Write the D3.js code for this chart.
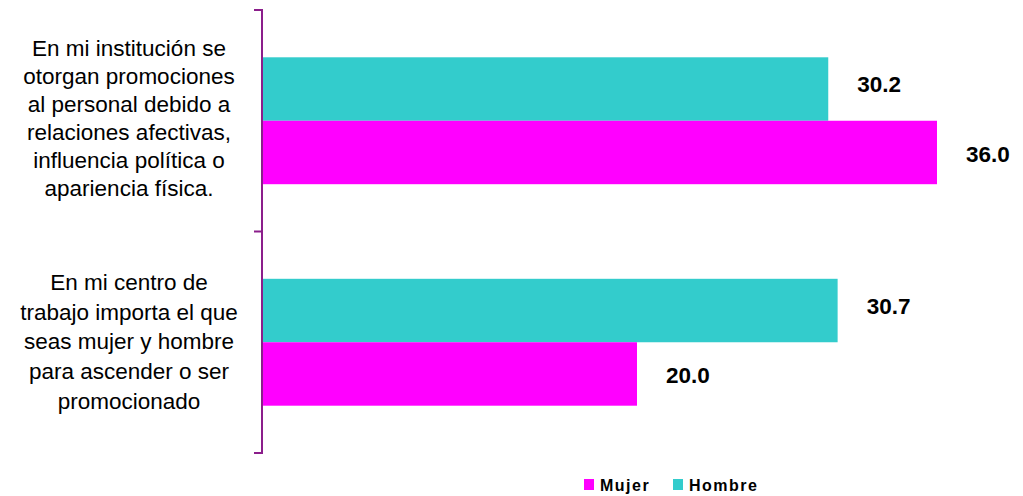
<!DOCTYPE html>
<html>
<head>
<meta charset="utf-8">
<script src="https://cdn.jsdelivr.net/npm/d3@7"></script>
<style>
  html, body { margin: 0; padding: 0; background: #fff; }
  svg { display: block; }
</style>
</head>
<body>
<svg id="chart" width="1023" height="496"></svg>
<script>
// ---- data ----
const categories = ["cat1", "cat2"];
const categoryLabels = [
  ["En mi institución se", "otorgan promociones", "al personal debido a", "relaciones afectivas,", "influencia política o", "apariencia física."],
  ["En mi centro de", "trabajo importa el que", "seas mujer y hombre", "para ascender o ser", "promocionado"]
];
const seriesNames = ["Hombre", "Mujer"];
const hombreValues = [30.2, 30.7];
const mujerValues = [36.0, 20.0];
const legendOrder = ["Mujer", "Hombre"];

// ---- styles ----
const colors = { Hombre: "#33CCCC", Mujer: "#FF00FF" };
const axisColor = "#8B1E8B";
const fontFamily = "'Liberation Sans', Arial, Helvetica, sans-serif";
const lineHeights = [28, 29.6];
const labelShift = [-3, -1];
const valueOffsets = { Hombre: -5, Mujer: 1 };

const svg = d3.select("#chart");
const axisX = 262;

const x = d3.scaleLinear().domain([0, 40]).range([axisX, 1012]);
const y0 = d3.scaleBand().domain(categories).range([10, 453]).paddingInner(0).paddingOuter(0);
const groupPad = 47.3;
const y1 = d3.scaleBand().domain(seriesNames).range([groupPad, y0.bandwidth() - groupPad]).padding(0);

const rows = categories.map((c, i) => ({
  cat: c,
  values: [
    { series: "Hombre", value: hombreValues[i] },
    { series: "Mujer", value: mujerValues[i] }
  ]
}));

const g = svg.selectAll("g.cat").data(rows).join("g")
  .attr("class", "cat")
  .attr("transform", d => `translate(0,${y0(d.cat)})`);

g.selectAll("rect").data(d => d.values).join("rect")
  .attr("x", x(0))
  .attr("y", d => y1(d.series))
  .attr("width", d => x(d.value) - x(0))
  .attr("height", y1.bandwidth())
  .attr("fill", d => colors[d.series]);

g.selectAll("text.val").data(d => d.values).join("text")
  .attr("class", "val")
  .attr("x", d => x(d.value) + 29)
  .attr("y", d => y1(d.series) + y1.bandwidth() / 2 + valueOffsets[d.series])
  .attr("dy", "0.36em")
  .attr("font-family", fontFamily)
  .attr("font-weight", "bold")
  .attr("font-size", "22.5px")
  .attr("fill", "#000")
  .text(d => d3.format(".1f")(d.value));

// ---- axis ----
const ax = svg.append("g");
ax.append("line")
  .attr("x1", axisX).attr("x2", axisX)
  .attr("y1", y0.range()[0]).attr("y2", y0.range()[1])
  .attr("stroke", axisColor).attr("stroke-width", 2);
const tickYs = categories.map(c => y0(c)).concat([y0.range()[1]]);
ax.selectAll("line.tick").data(tickYs).join("line")
  .attr("class", "tick")
  .attr("x1", axisX - 8).attr("x2", axisX + 1)
  .attr("y1", d => d).attr("y2", d => d)
  .attr("stroke", axisColor).attr("stroke-width", 2);

// ---- category labels ----
categories.forEach((c, i) => {
  const lines = categoryLabels[i];
  const lh = lineHeights[i];
  const center = y0(c) + y0.bandwidth() / 2 + labelShift[i];
  const t = svg.append("text")
    .attr("font-family", fontFamily)
    .attr("font-size", "22.5px")
    .attr("fill", "#000")
    .attr("text-anchor", "middle");
  lines.forEach((ln, j) => {
    t.append("tspan")
      .attr("x", 129)
      .attr("y", center + (j - (lines.length - 1) / 2) * lh)
      .attr("dy", "0.36em")
      .text(ln);
  });
});

// ---- legend ----
const legendX = [584, 673];
const lg = svg.append("g");
legendOrder.forEach((name, i) => {
  lg.append("rect")
    .attr("x", legendX[i]).attr("y", 479)
    .attr("width", 10).attr("height", 11)
    .attr("fill", colors[name]);
  lg.append("text")
    .attr("x", legendX[i] + 16).attr("y", 491)
    .attr("font-family", fontFamily)
    .attr("font-weight", "bold")
    .attr("font-size", "16px")
    .attr("letter-spacing", "1.5px")
    .attr("fill", "#000")
    .text(name);
});
</script>
</body>
</html>
